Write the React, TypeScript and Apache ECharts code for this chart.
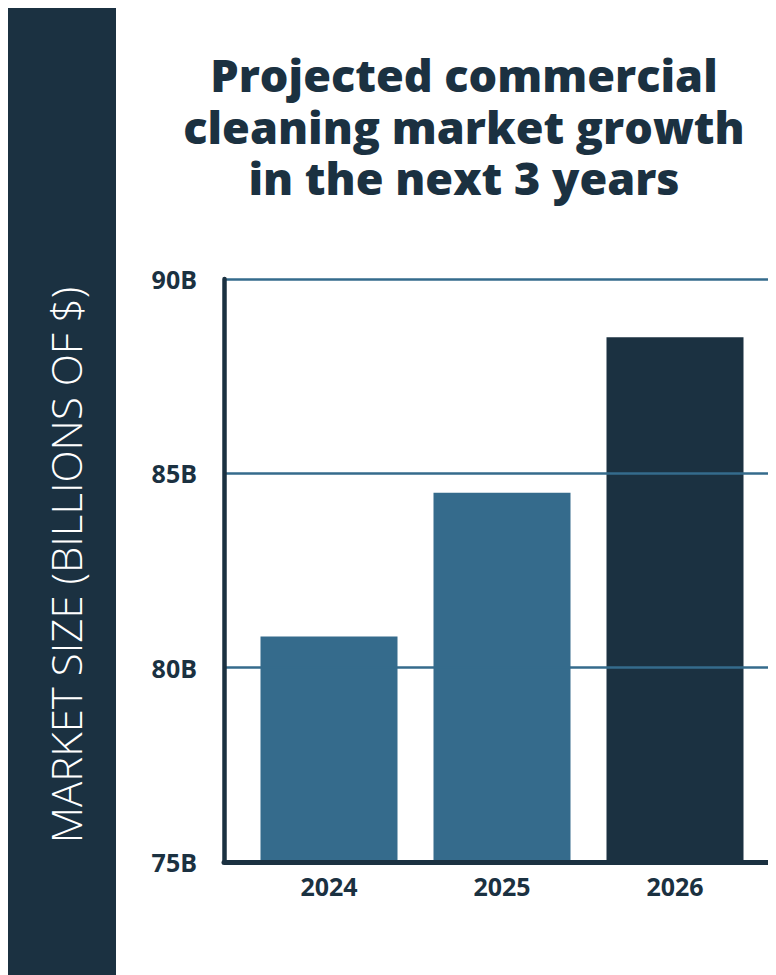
import React, { useEffect, useRef } from "react";
import * as echarts from "echarts";

const categories = ["2024", "2025", "2026"];
const marketSize = [80.8, 84.5, 88.5];
const barColors = ["#356b8c", "#356b8c", "#1b3141"];
const yMin = 75;
const yMax = 90;
const yStep = 5;
const titleLines = ["Projected commercial", "cleaning market growth", "in the next 3 years"];
const sideLabel = "MARKET SIZE (BILLIONS OF $)";

const DARK = "#1b3141";
const MID = "#356b8c";

export default function App() {
  const ref = useRef<HTMLDivElement>(null);
  useEffect(() => {
    if (!ref.current) return;
    const chart = echarts.init(ref.current, undefined, { renderer: "svg" });
    const option: any = {
      animation: false,
      backgroundColor: "#ffffff",
      textStyle: { fontFamily: "'Open Sans', sans-serif" },
      grid: [
        { left: 216, top: 271, bottom: 113, right: -40, containLabel: false },
        { left: 234.5, top: 271, bottom: 113, width: 519, containLabel: false },
      ],
      xAxis: [
        {
          type: "value",
          gridIndex: 0,
          min: 0,
          max: 1,
          z: 5,
          axisLine: { show: true, onZero: false, lineStyle: { color: DARK, width: 5 } },
          axisTick: { show: false },
          axisLabel: { show: false },
          splitLine: { show: false },
        },
        {
          type: "category",
          gridIndex: 1,
          data: categories,
          axisLine: { show: false },
          axisTick: { show: false },
          axisLabel: {
            margin: 11,
            color: DARK,
            fontSize: 25,
            fontWeight: 700,
            fontFamily: "'Open Sans', sans-serif",
          },
        },
      ],
      yAxis: [
        {
          type: "value",
          gridIndex: 0,
          min: yMin,
          max: yMax,
          interval: yStep,
          z: 5,
          axisLine: { show: true, lineStyle: { color: DARK, width: 4.5 } },
          axisTick: { show: false },
          axisLabel: {
            margin: 27,
            color: DARK,
            fontSize: 25,
            fontWeight: 700,
            fontFamily: "'Open Sans', sans-serif",
            formatter: (v: number) => v + "B",
          },
          splitLine: { show: true, lineStyle: { color: MID, width: 2.5 } },
        },
        {
          type: "value",
          gridIndex: 1,
          min: yMin,
          max: yMax,
          interval: yStep,
          axisLine: { show: false },
          axisTick: { show: false },
          axisLabel: { show: false },
          splitLine: { show: false },
        },
      ],
      series: [
        {
          type: "bar",
          xAxisIndex: 1,
          yAxisIndex: 1,
          barWidth: 137,
          data: marketSize.map((v, i) => ({ value: v, itemStyle: { color: barColors[i] } })),
        },
      ],
      graphic: [
        {
          type: "rect",
          shape: { x: 0, y: 0, width: 108, height: 980 },
          style: { fill: DARK },
          z: 1,
        },
        {
          type: "text",
          x: 57,
          y: 557,
          rotation: Math.PI / 2,
          z: 2,
          style: {
            text: sideLabel,
            fill: "#ffffff",
            fontSize: 42,
            fontWeight: 300,
            fontFamily: "'Open Sans', sans-serif",
            textAlign: "center",
            textVerticalAlign: "middle",
          },
        },
        ...titleLines.map((line, i) => ({
          type: "text",
          x: 456,
          y: 44 + i * 51.5,
          z: 2,
          style: {
            text: line,
            fill: DARK,
            fontSize: 45,
            fontWeight: 800,
            fontFamily: "'Open Sans', sans-serif",
            textAlign: "center",
            textVerticalAlign: "top",
          },
        })),
      ],
    };
    chart.setOption(option);
    return () => chart.dispose();
  }, []);
  return <div ref={ref} style={{ width: 768, height: 967 }} />;
}
